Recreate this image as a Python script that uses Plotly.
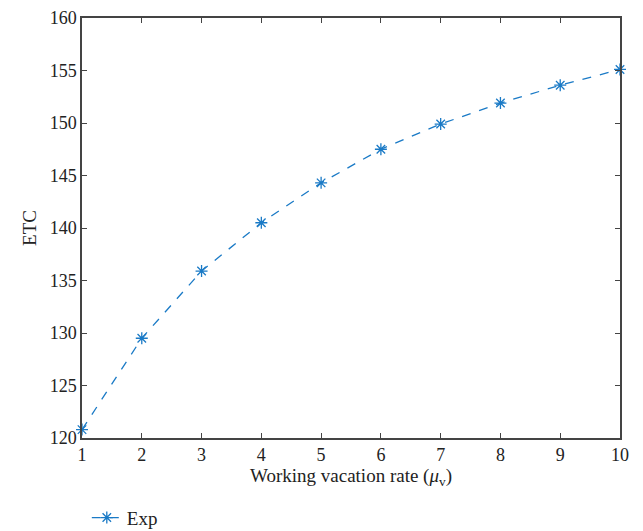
import plotly.graph_objects as go

x_vals = [1, 2, 3, 4, 5, 6, 7, 8, 9, 10]
etc_vals = [120.8, 129.5, 135.9, 140.5, 144.3, 147.5, 149.9, 151.9, 153.6, 155.1]
series_name = "Exp"
y_ticks = [120, 125, 130, 135, 140, 145, 150, 155, 160]

color = "#1a7ac6"
font_family = "Liberation Serif, DejaVu Serif, serif"

fig = go.Figure()
fig.add_trace(go.Scatter(
    x=x_vals, y=etc_vals, name=series_name, mode="lines+markers",
    line=dict(color=color, width=1.3, dash="dash"),
    marker=dict(symbol="asterisk-open", size=10, color=color, line=dict(color=color, width=1.3)),
    cliponaxis=False,
))

axis_common = dict(
    showline=True, linecolor="#444", linewidth=1.5, mirror="ticks",
    ticks="inside", ticklen=5, tickcolor="#444", tickwidth=1.2,
    showgrid=False, zeroline=False,
    tickfont=dict(family=font_family, size=18, color="#222"),
)

fig.update_layout(
    width=643, height=531,
    margin=dict(l=82, r=23, t=18, b=93, autoexpand=False),
    plot_bgcolor="white", paper_bgcolor="white",
    font=dict(family=font_family, size=18, color="#222"),
    xaxis=dict(range=[1, 10], tickvals=x_vals, **axis_common,
               title=dict(text="Working vacation rate (<i>μ</i><sub>v</sub>)", standoff=4,
                          font=dict(family=font_family, size=19, color="#222"))),
    yaxis=dict(range=[120, 160], tickvals=y_ticks, **axis_common,
               title=dict(text="ETC", standoff=8,
                          font=dict(family=font_family, size=19, color="#222"))),
    showlegend=True,
    legend=dict(orientation="h", xref="container", yref="container",
                x=0.135, y=0.025, xanchor="left", yanchor="middle",
                font=dict(family=font_family, size=19, color="#222"), bgcolor="rgba(0,0,0,0)"),
)

fig.write_html("out.html")
